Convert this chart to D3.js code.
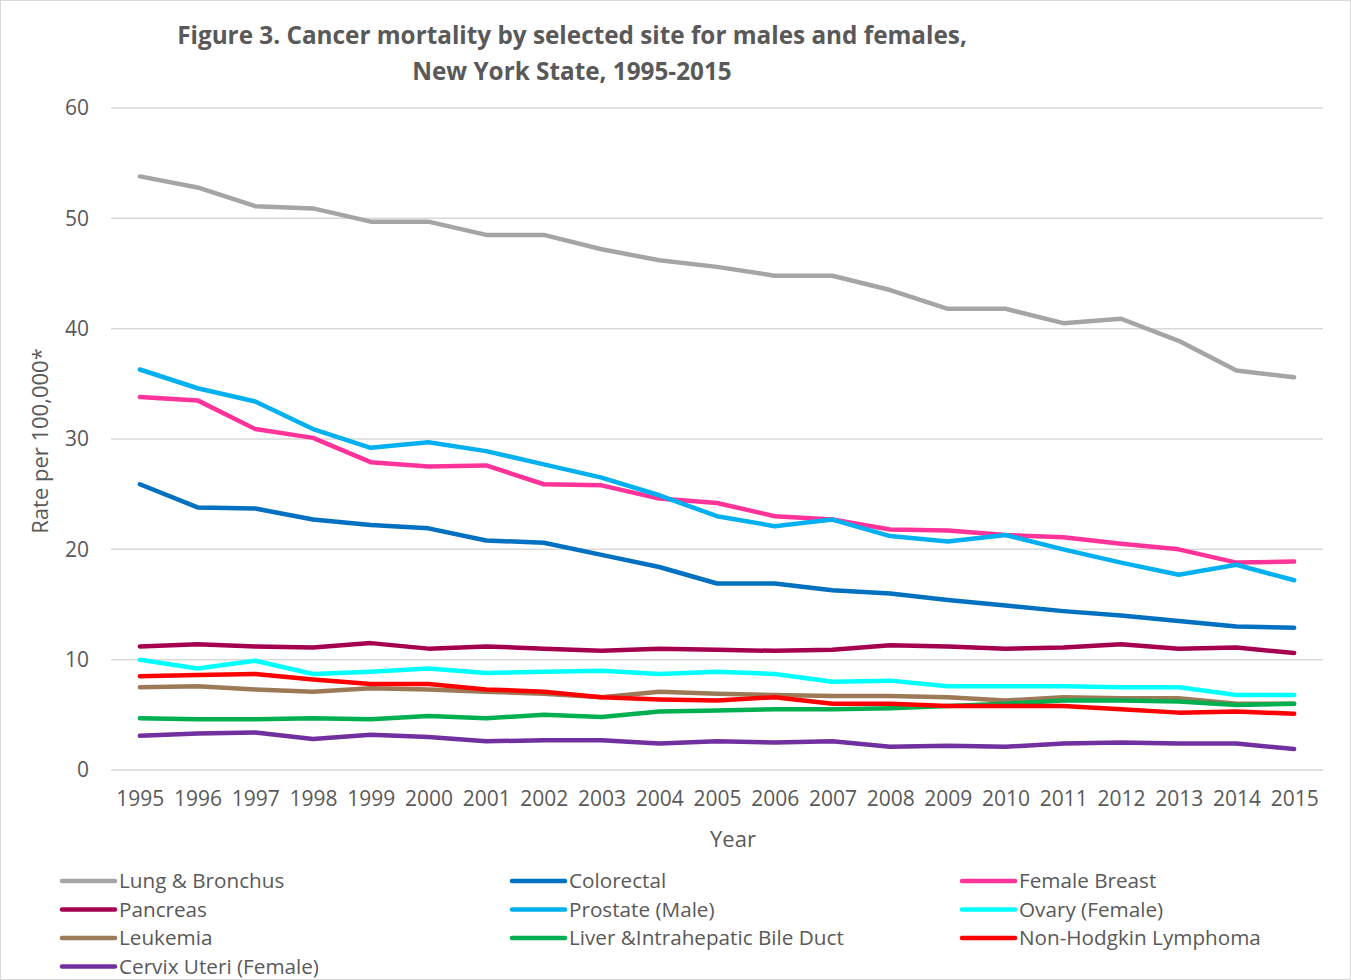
<!DOCTYPE html>
<html>
<head>
<meta charset="utf-8">
<script src="https://cdn.jsdelivr.net/npm/d3@7"></script>
<style>
  body { margin: 0; background: #fff; }
  text { font-family: "Open Sans", sans-serif; fill: #595959; }
</style>
</head>
<body>
<script>
var width = 1351,
    height = 980,
    margin = {top: 108, right: 28, bottom: 210, left: 111};

var years = d3.range(1995, 2016).map(String);
var yTicks = [0, 10, 20, 30, 40, 50, 60];

var seriesNames = ["Lung & Bronchus", "Colorectal", "Female Breast",
  "Pancreas", "Prostate (Male)", "Ovary (Female)",
  "Leukemia", "Liver &Intrahepatic Bile Duct", "Non-Hodgkin Lymphoma",
  "Cervix Uteri (Female)"];
var colors = ["#A5A5A5", "#0070C0", "#FF3399",
  "#A50050", "#00B0F0", "#00FFFF",
  "#9C7A58", "#00B050", "#FF0000",
  "#7030A0"];

var lung = [53.8, 52.8, 51.1, 50.9, 49.7, 49.7, 48.5, 48.5, 47.2, 46.2, 45.6, 44.8, 44.8, 43.5, 41.8, 41.8, 40.5, 40.9, 38.9, 36.2, 35.6];
var colorectal = [25.9, 23.8, 23.7, 22.7, 22.2, 21.9, 20.8, 20.6, 19.5, 18.4, 16.9, 16.9, 16.3, 16.0, 15.4, 14.9, 14.4, 14.0, 13.5, 13.0, 12.9];
var breast = [33.8, 33.5, 30.9, 30.1, 27.9, 27.5, 27.6, 25.9, 25.8, 24.6, 24.2, 23.0, 22.7, 21.8, 21.7, 21.3, 21.1, 20.5, 20.0, 18.8, 18.9];
var pancreas = [11.2, 11.4, 11.2, 11.1, 11.5, 11.0, 11.2, 11.0, 10.8, 11.0, 10.9, 10.8, 10.9, 11.3, 11.2, 11.0, 11.1, 11.4, 11.0, 11.1, 10.6];
var prostate = [36.3, 34.6, 33.4, 30.9, 29.2, 29.7, 28.9, 27.7, 26.5, 24.9, 23.0, 22.1, 22.7, 21.2, 20.7, 21.3, 20.0, 18.8, 17.7, 18.6, 17.2];
var ovary = [10.0, 9.2, 9.9, 8.7, 8.9, 9.2, 8.8, 8.9, 9.0, 8.7, 8.9, 8.7, 8.0, 8.1, 7.6, 7.6, 7.6, 7.5, 7.5, 6.8, 6.8];
var leukemia = [7.5, 7.6, 7.3, 7.1, 7.4, 7.3, 7.1, 6.9, 6.6, 7.1, 6.9, 6.8, 6.7, 6.7, 6.6, 6.3, 6.6, 6.5, 6.5, 6.0, 6.0];
var liver = [4.7, 4.6, 4.6, 4.7, 4.6, 4.9, 4.7, 5.0, 4.8, 5.3, 5.4, 5.5, 5.5, 5.6, 5.8, 6.0, 6.3, 6.3, 6.2, 5.9, 6.0];
var nhl = [8.5, 8.6, 8.7, 8.2, 7.8, 7.8, 7.3, 7.1, 6.6, 6.4, 6.3, 6.6, 6.0, 6.0, 5.8, 5.8, 5.8, 5.5, 5.2, 5.3, 5.1];
var cervix = [3.1, 3.3, 3.4, 2.8, 3.2, 3.0, 2.6, 2.7, 2.7, 2.4, 2.6, 2.5, 2.6, 2.1, 2.2, 2.1, 2.4, 2.5, 2.4, 2.4, 1.9];

var seriesValues = [lung, colorectal, breast, pancreas, prostate, ovary, leukemia, liver, nhl, cervix];

var svg = d3.select("body").append("svg")
    .attr("width", width)
    .attr("height", height);

svg.append("rect")
    .attr("x", 0.5).attr("y", 0.5)
    .attr("width", width - 1).attr("height", height - 1)
    .attr("fill", "#fff")
    .attr("stroke", "#D9D9D9");

var plotW = width - margin.left - margin.right,
    plotH = height - margin.top - margin.bottom;

var x = d3.scalePoint()
    .domain(years)
    .range([0, plotW])
    .padding(0.5);

var y = d3.scaleLinear()
    .domain([0, 60])
    .range([plotH, 0]);

var g = svg.append("g")
    .attr("transform", "translate(" + margin.left + "," + margin.top + ")");

// gridlines
g.selectAll(".grid")
    .data(yTicks)
  .enter().append("line")
    .attr("class", "grid")
    .attr("x1", 0)
    .attr("x2", plotW)
    .attr("y1", function(d) { return y(d); })
    .attr("y2", function(d) { return y(d); })
    .attr("stroke", "#D9D9D9")
    .attr("stroke-width", 1.5);

// y axis labels
var yAxis = d3.axisLeft(y).tickValues(yTicks).tickSize(0).tickPadding(22);
g.append("g").call(yAxis)
  .call(function(a) {
    a.select(".domain").remove();
    a.selectAll("text").attr("font-size", 21).style("font-family", "Open Sans");
  });

// x axis labels
var xAxis = d3.axisBottom(x).tickSize(0).tickPadding(21);
g.append("g")
    .attr("transform", "translate(0," + plotH + ")")
    .call(xAxis)
  .call(function(a) {
    a.select(".domain").remove();
    a.selectAll("text").attr("font-size", 21).style("font-family", "Open Sans");
  });

var line = d3.line()
    .x(function(d, i) { return x(years[i]); })
    .y(function(d) { return y(d); });

g.selectAll(".series")
    .data(seriesValues)
  .enter().append("path")
    .attr("class", "series")
    .attr("fill", "none")
    .attr("stroke", function(d, i) { return colors[i]; })
    .attr("stroke-width", 4.5)
    .attr("stroke-linejoin", "round")
    .attr("stroke-linecap", "round")
    .attr("d", line);

// title
svg.append("text")
    .attr("x", 572).attr("y", 44)
    .attr("text-anchor", "middle")
    .attr("font-size", 24.3)
    .attr("font-weight", "bold")
    .text("Figure 3. Cancer mortality by selected site for males and females,");
svg.append("text")
    .attr("x", 572).attr("y", 80)
    .attr("text-anchor", "middle")
    .attr("font-size", 24.3)
    .attr("font-weight", "bold")
    .text("New York State, 1995-2015");

// axis titles
svg.append("text")
    .attr("transform", "translate(48,441) rotate(-90)")
    .attr("text-anchor", "middle")
    .attr("font-size", 22)
    .text("Rate per 100,000*");
svg.append("text")
    .attr("x", 733).attr("y", 847)
    .attr("text-anchor", "middle")
    .attr("font-size", 22)
    .text("Year");

// legend
var legend = svg.selectAll(".legend")
    .data(seriesNames)
  .enter().append("g")
    .attr("class", "legend")
    .attr("transform", function(d, i) {
      return "translate(" + (62 + (i % 3) * 450) + "," + (881 + Math.floor(i / 3) * 28.5) + ")";
    });
legend.append("line")
    .attr("x1", 0).attr("x2", 53)
    .attr("stroke", function(d, i) { return colors[i]; })
    .attr("stroke-width", 4.5)
    .attr("stroke-linecap", "round");
legend.append("text")
    .attr("x", 57).attr("dy", "0.35em")
    .attr("font-size", 20.7)
    .text(function(d) { return d; });
</script>
</body>
</html>
